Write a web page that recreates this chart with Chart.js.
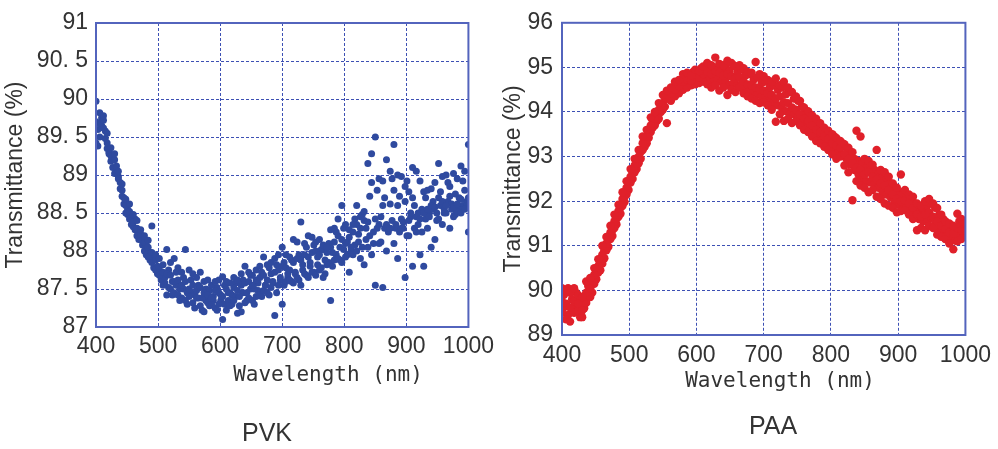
<!DOCTYPE html>
<html>
<head>
<meta charset="utf-8">
<script src="https://cdn.jsdelivr.net/npm/chart.js@4/dist/chart.umd.min.js"></script>
<style>
  html, body { margin: 0; padding: 0; background: #fff; }
  body { width: 998px; height: 449px; position: relative; overflow: hidden; }
  .box { position: absolute; top: 0; height: 449px; }
  #leftBox { left: 0; width: 500px; }
  #rightBox { left: 500px; width: 498px; }
</style>
</head>
<body>
<div class="box" id="leftBox"><canvas id="pvk"></canvas></div>
<div class="box" id="rightBox"><canvas id="paa"></canvas></div>
<script>
// wavelengths (nm): main sampling and the in-between sampling
const wavelengths = [400,406,412,418,424,430,436,442,448,454,460,466,472,478,484,490,496,502,508,514,
  520,526,532,538,544,550,556,562,568,574,580,586,592,598,604,610,616,622,628,634,
  640,646,652,658,664,670,676,682,688,694,700,706,712,718,724,730,736,742,748,754,
  760,766,772,778,784,790,796,802,808,814,820,826,832,838,844,850,856,862,868,874,
  880,886,892,898,904,910,916,922,928,934,940,946,952,958,964,970,976,982,988,994,1000];
const wavelengths2 = [403,409,415,421,427,433,439,445,451,457,463,469,475,481,487,493,499,505,511,517,
  523,529,535,541,547,553,559,565,571,577,583,589,595,601,607,613,619,625,631,637,
  643,649,655,661,667,673,679,685,691,697,703,709,715,721,727,733,739,745,751,757,
  763,769,775,781,787,793,799,805,811,817,823,829,835,841,847,853,859,865,871,877,
  883,889,895,901,907,913,919,925,931,937,943,949,955,961,967,973,979,985,991,997];

// PVK transmittance (%)
const pvkA = [89.97,89.82,89.78,89.55,89.36,89.28,89.05,88.88,88.68,88.62,88.48,88.4,88.28,88.2,88.14,88.33,87.95,87.9,87.82,88.02,
  87.85,87.9,87.78,87.72,88.02,87.75,87.7,87.65,87.72,87.6,87.62,87.55,87.6,87.62,87.66,87.6,87.58,87.65,87.62,87.7,
  87.8,87.72,87.68,87.75,87.8,87.92,87.82,87.85,87.9,87.95,88.05,87.95,87.92,88.15,88.12,88.38,88.1,88.2,88.18,88.12,
  88.15,88.08,88.05,88.28,88.3,88.42,88.6,88.35,88.28,88.35,88.6,88.45,88.52,89.15,89.28,89.5,88.95,88.92,89.2,89.05,
  89.4,89.0,88.98,88.85,88.78,89.1,89.05,88.92,88.78,88.8,88.82,88.9,89.15,88.98,89.0,88.85,89.02,88.95,89.12,89.05,89.4];
const pvkB = [89.7,89.68,89.72,89.42,89.25,89.2,88.95,88.8,88.6,88.52,88.38,88.3,88.22,88.12,88.05,87.98,87.88,87.78,87.72,87.7,
  87.68,87.6,87.62,87.55,87.6,87.5,87.55,87.48,87.52,87.45,87.42,87.38,87.48,87.45,87.4,87.5,87.45,87.52,87.48,87.55,
  87.58,87.6,87.55,87.62,87.65,87.68,87.62,87.7,87.72,87.75,87.8,87.78,87.75,87.85,87.9,87.88,87.95,87.92,87.98,88.0,
  87.95,88.02,87.98,88.05,88.12,88.2,88.15,88.1,88.18,88.25,88.35,88.3,88.4,88.38,88.9,88.42,88.35,88.6,88.35,88.62,
  88.8,88.6,88.42,88.65,88.4,88.7,88.45,88.42,88.5,88.55,88.6,88.58,88.7,88.65,88.6,88.72,88.58,88.62,88.68,88.8,88.7];
const pvkC = [89.42,89.5,89.62,89.35,89.18,89.02,88.98,88.72,88.5,88.42,88.32,88.2,88.15,88.0,87.92,87.85,87.75,87.68,87.55,87.42,
  87.5,87.45,87.42,87.38,87.35,87.4,87.32,87.38,87.28,87.2,87.32,87.3,87.25,87.3,87.1,87.22,87.28,87.35,87.18,87.2,
  87.32,87.38,87.35,87.4,87.42,87.48,87.45,87.52,87.15,87.55,87.3,87.6,87.62,87.58,87.65,87.55,87.7,87.65,87.72,87.68,
  87.75,87.65,87.82,87.35,87.88,87.9,87.85,87.92,87.72,87.95,88.0,87.9,87.82,88.05,87.95,87.55,88.1,87.52,88.0,88.3,
  88.1,87.9,88.3,87.65,88.2,87.8,88.25,87.95,87.8,88.3,88.05,88.15,88.42,88.35,88.5,88.3,88.45,88.52,88.5,88.55,88.25];
const pvkD = [89.6,89.75,89.58,89.3,89.22,89.12,88.9,88.7,88.55,88.45,88.42,88.25,88.18,88.08,87.98,87.92,87.8,87.72,87.65,87.75,
  87.6,87.72,87.5,87.65,87.45,87.62,87.42,87.55,87.38,87.5,87.48,87.35,87.52,87.42,87.55,87.35,87.42,87.58,87.4,87.62,
  87.45,87.68,87.5,87.58,87.72,87.55,87.78,87.6,87.82,87.62,87.85,87.7,87.88,87.72,87.95,87.82,88.05,87.85,88.08,87.92,
  88.02,87.88,88.1,87.98,88.25,88.05,88.3,88.12,88.05,88.42,88.22,88.48,88.3,88.72,88.25,88.8,88.45,88.7,88.3,88.95,
  88.35,88.72,88.3,88.92,88.5,88.6,88.35,88.55,88.7,88.45,88.65,88.5,88.78,88.55,88.9,88.62,88.75,88.55,88.92,88.6];
const pvkE = [89.38,89.65,89.48,89.28,89.1,89.05,88.82,88.62,88.48,88.35,88.28,88.15,88.08,87.95,87.88,87.78,87.7,87.62,87.58,87.52,
  87.42,87.55,87.35,87.5,87.3,87.45,87.25,87.38,87.22,87.35,87.28,87.4,87.22,87.35,87.3,87.45,87.3,87.4,87.28,87.45,
  87.35,87.5,87.3,87.48,87.4,87.55,87.42,87.58,87.45,87.65,87.55,87.65,87.6,87.7,87.62,87.75,87.68,87.8,87.72,87.82,
  87.78,87.7,87.85,87.8,87.95,87.88,88.02,87.95,88.0,88.08,88.12,88.05,88.15,88.2,88.1,88.3,88.12,88.3,88.25,88.4,
  88.3,88.25,88.38,88.2,88.45,88.3,88.5,88.25,88.42,88.5,88.55,88.4,88.6,88.5,88.65,88.55,88.48,88.7,88.6,88.65];

// PAA transmittance (%)
const paaA = [90.05,90.0,89.95,90.05,89.9,89.85,90.2,90.28,90.5,90.7,91.0,91.2,91.45,91.7,91.92,92.2,92.45,92.72,92.95,93.15,
  93.45,93.6,93.88,94.0,94.2,94.38,94.48,94.55,94.68,94.72,94.85,94.88,94.82,94.95,94.92,95.02,95.1,95.05,95.22,95.08,
  95.05,95.15,95.1,95.02,95.05,94.98,94.9,94.88,95.12,94.85,94.8,94.72,94.68,94.75,94.6,94.68,94.55,94.45,94.35,94.25,
  94.1,94.02,93.92,93.85,93.75,93.65,93.58,93.5,93.42,93.35,93.28,93.2,93.1,93.58,93.45,92.95,92.9,92.82,93.15,92.7,
  92.65,92.55,92.4,92.3,92.6,92.25,92.15,92.1,91.95,91.9,92.0,92.05,91.95,91.85,91.7,91.55,91.5,91.45,91.72,91.6,91.5];
const paaB = [89.75,89.7,89.62,89.75,89.7,89.55,89.95,90.05,90.35,90.55,90.8,91.05,91.3,91.55,91.78,92.05,92.3,92.55,92.8,93.0,
  93.3,93.45,93.7,93.85,94.05,94.2,94.3,94.42,94.5,94.58,94.68,94.72,94.7,94.8,94.78,94.85,94.9,94.85,94.92,94.88,
  94.82,94.85,94.8,94.75,94.78,94.68,94.62,94.6,94.55,94.5,94.48,94.42,94.38,94.3,94.35,94.22,94.2,94.1,94.05,93.95,
  93.85,93.8,93.7,93.6,93.55,93.45,93.4,93.3,93.25,93.2,93.05,92.95,92.85,92.75,92.7,92.6,92.65,92.55,92.48,92.4,
  92.35,92.25,92.15,92.05,92.0,92.02,91.95,91.85,91.7,91.65,91.7,91.75,91.65,91.55,91.45,91.38,91.3,91.28,91.4,91.35,91.35];
const paaC = [89.5,89.35,89.3,89.5,89.55,89.4,89.72,89.85,90.15,90.4,90.6,90.9,91.15,91.4,91.65,91.9,92.15,92.42,92.65,92.85,
  93.15,93.3,93.55,93.7,93.85,94.05,93.75,94.25,94.35,94.42,94.5,94.55,94.6,94.62,94.65,94.68,94.62,94.55,94.6,94.48,
  94.55,94.38,94.5,94.45,94.55,94.42,94.35,94.3,94.25,94.2,94.22,94.15,94.05,93.78,93.95,93.8,93.85,93.75,93.8,93.7,
  93.6,93.55,93.45,93.35,93.3,93.22,93.15,93.05,92.95,93.0,92.8,92.65,92.02,92.45,92.35,92.3,92.2,92.25,92.1,92.05,
  91.95,91.9,91.85,91.75,91.78,91.8,91.7,91.6,91.35,91.4,91.35,91.45,91.4,91.25,91.2,91.15,91.05,90.92,91.1,91.15,91.25];
const paaD = [89.9,90.05,89.8,89.95,89.8,89.7,90.1,90.2,90.45,90.62,90.9,91.15,91.35,91.6,91.85,92.1,92.4,92.65,92.9,93.1,
  93.35,93.6,93.8,93.95,94.15,94.32,94.42,94.55,94.62,94.72,94.75,94.85,94.9,94.85,94.98,94.95,95.05,94.95,95.0,94.95,
  95.0,94.92,95.05,94.9,94.95,94.82,94.85,94.72,94.78,94.65,94.68,94.55,94.6,94.5,94.55,94.4,94.45,94.3,94.25,94.12,
  94.0,93.95,93.85,93.72,93.65,93.55,93.5,93.45,93.35,93.3,93.2,93.1,92.95,92.9,92.85,92.75,92.8,92.7,92.62,92.55,
  92.5,92.4,92.3,92.2,92.15,92.1,92.05,91.95,91.85,91.8,91.9,91.95,91.85,91.7,91.6,91.5,91.42,91.38,91.55,91.48];
const paaE = [89.62,89.45,89.55,89.65,89.4,89.6,89.85,89.95,90.25,90.45,90.72,90.98,91.22,91.48,91.72,91.98,92.25,92.5,92.72,92.95,
  93.22,93.42,93.65,93.8,94.0,94.12,94.3,94.38,94.45,94.55,94.6,94.65,94.72,94.7,94.78,94.75,94.78,94.7,94.75,94.68,
  94.7,94.6,94.65,94.6,94.62,94.55,94.5,94.45,94.4,94.35,94.35,94.3,94.2,94.15,94.1,94.02,93.95,93.95,93.88,93.8,
  93.72,93.65,93.58,93.48,93.4,93.35,93.25,93.18,93.1,93.05,92.95,92.82,92.7,92.6,92.5,92.45,92.42,92.38,92.3,92.2,
  92.15,92.08,92.0,91.92,91.88,91.9,91.82,91.72,91.6,91.55,91.55,91.62,91.55,91.4,91.32,91.25,91.18,91.12,91.25,91.3];

const xTicks = [400, 500, 600, 700, 800, 900, 1000];
const pvkTickValues = [87, 87.5, 88, 88.5, 89, 89.5, 90, 90.5, 91];
const pvkTickLabels = ['87', '87. 5', '88', '88. 5', '89', '89. 5', '90', '90. 5', '91'];
const paaTickValues = [89, 90, 91, 92, 93, 94, 95, 96];
const paaTickLabels = ['89', '90', '91', '92', '93', '94', '95', '96'];

const GRID = '#3d50b4';
const FRAME = '#5364bd';
const TEXT = '#333333';
const SANS = '"Liberation Sans", Arial, sans-serif';

function pts(xs, ys) {
  return xs.map((w, i) => ({ x: w, y: ys[i] }));
}

// solid frame round the plot area, captions under the plot
const framePlugin = {
  id: 'frame',
  afterDraw(chart, args, opts) {
    const a = chart.chartArea;
    const ctx = chart.ctx;
    ctx.save();
    ctx.strokeStyle = FRAME;
    ctx.lineWidth = 2;
    ctx.strokeRect(a.left, a.top, a.right - a.left, a.bottom - a.top);
    ctx.fillStyle = TEXT;
    ctx.textAlign = 'center';
    ctx.textBaseline = 'middle';
    ctx.font = '21px "DejaVu Sans Mono", monospace';
    ctx.fillText('Wavelength (nm)', opts.xTitleX, opts.xTitleY);
    ctx.font = '25px ' + SANS;
    ctx.fillText(opts.caption, opts.captionX, opts.captionY);
    ctx.restore();
  }
};

function makeChart(id, sets, color, radius, yMin, yMax, tickValues, tickLabels, box, frameOpts) {
  return new Chart(document.getElementById(id), {
    type: 'scatter',
    data: {
      datasets: sets.map(s => ({
        data: pts(s[0], s[1]),
        backgroundColor: color,
        borderWidth: 0,
        pointRadius: radius,
        pointHoverRadius: radius
      }))
    },
    options: {
      responsive: true,
      maintainAspectRatio: false,
      animation: false,
      events: [],
      layout: { padding: { left: 0, right: box.padRight, top: box.top, bottom: 0 } },
      plugins: { legend: { display: false }, tooltip: { enabled: false }, frame: frameOpts },
      scales: {
        x: {
          type: 'linear', min: 400, max: 1000,
          afterBuildTicks: s => { s.ticks = xTicks.map(v => ({ value: v })); },
          afterFit: s => { s.height = box.xHeight; },
          grid: { color: GRID, lineWidth: 1, drawTicks: false },
          border: { display: false, dash: [3, 2] },
          ticks: {
            color: TEXT, padding: box.xPad, maxRotation: 0,
            font: { family: SANS, size: 23 },
            callback: v => String(v)
          }
        },
        y: {
          min: yMin, max: yMax,
          afterBuildTicks: s => { s.ticks = tickValues.map(v => ({ value: v })); },
          afterFit: s => { s.width = box.yWidth; },
          grid: { color: GRID, lineWidth: 1, drawTicks: false },
          border: { display: false, dash: [3, 2] },
          ticks: {
            color: TEXT, padding: box.yPad,
            font: { family: SANS, size: 23 },
            callback: v => tickLabels[tickValues.indexOf(v)]
          },
          title: {
            display: true, text: 'Transmittance (%)', color: TEXT,
            font: { family: SANS, size: 23 },
            padding: { top: box.titleTop, bottom: 0 }
          }
        }
      }
    },
    plugins: [framePlugin]
  });
}

makeChart('pvk',
  [[wavelengths, pvkA], [wavelengths, pvkB], [wavelengths, pvkC], [wavelengths2, pvkD], [wavelengths2, pvkE]],
  '#2f4a9f', 3.5, 87, 91, pvkTickValues, pvkTickLabels,
  { top: 23, padRight: 30, xHeight: 122, yWidth: 96, xPad: 6, yPad: 8, titleTop: 2 },
  { caption: 'PVK', captionX: 267, captionY: 434, xTitleX: 328, xTitleY: 376 });

makeChart('paa',
  [[wavelengths, paaA], [wavelengths, paaB], [wavelengths, paaC], [wavelengths2, paaD], [wavelengths2, paaE]],
  '#e0202a', 4.2, 89, 96, paaTickValues, paaTickLabels,
  { top: 19, padRight: 30, xHeight: 114, yWidth: 62, xPad: 7, yPad: 9, titleTop: 0 },
  { caption: 'PAA', captionX: 273, captionY: 427, xTitleX: 280, xTitleY: 382 });
</script>
</body>
</html>
